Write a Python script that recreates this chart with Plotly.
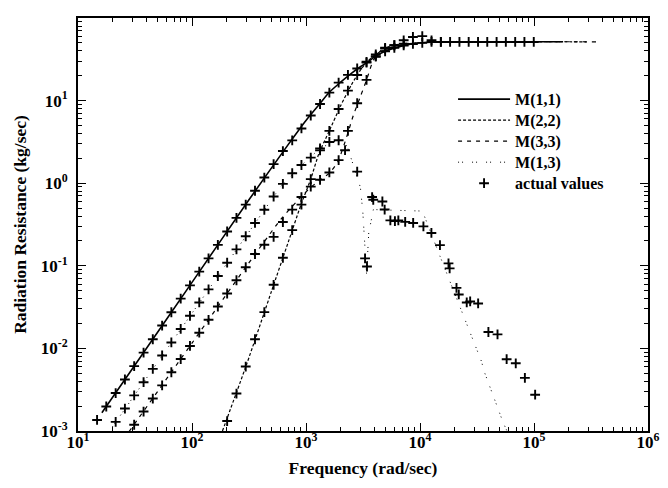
import plotly.graph_objects as go

# ---------------- data ----------------
# model curves (frequency in rad/sec, resistance in kg/sec)
m11_f = [16.2, 31.6, 100, 316, 700, 1000, 1300, 1600, 2000, 2500, 3000, 3500,
         4000, 5000, 6500, 8000, 10000, 15000, 50000, 180000]
m11_r = [0.00166, 0.0063, 0.063, 0.63, 2.95, 5.75, 8.9, 12.6, 16.6, 21.4, 25.7, 29.5,
         33.9, 39.8, 44.7, 47.9, 50.1, 51.3, 51.5, 51.5]

m22_f = [185, 300, 500, 700, 900, 1100, 1300, 1600, 2000, 2500, 3000, 3500,
         4000, 5000, 6500, 8000, 10000, 15000, 290000]
m22_r = [0.001, 0.0063, 0.05, 0.195, 0.54, 1.12, 2.3, 4.3, 8.5, 15.5, 23.4, 30.2,
         35.5, 41.7, 46.8, 49.0, 50.0, 51.3, 51.5]

m33_f = [28, 100, 300, 600, 900, 1100, 1300, 1600, 1900, 2200, 2600, 3000,
         3400, 3900, 4500, 5500, 7000, 10000, 15000, 370000]
m33_r = [0.00098, 0.0116, 0.0986, 0.363, 0.68, 0.89, 1.07, 1.32, 1.82, 3.16, 6.6, 11.2,
         17.8, 30.9, 39.8, 45.7, 49.0, 50.0, 51.3, 51.5]

m13_f = [20, 100, 300, 600, 900, 1300, 1700, 2000, 2300, 2700, 3000, 3150, 3300,
         3400, 3550, 3900, 6000, 10500, 15000, 25700, 34700, 36300, 42700, 50100,
         53700, 58000]
m13_r = [0.00112, 0.027, 0.234, 0.91, 1.62, 2.57, 3.16, 3.3, 2.8, 1.45, 0.89, 0.45,
         0.18, 0.079, 0.25, 0.48, 0.47, 0.46, 0.13, 0.02, 0.0069, 0.0054, 0.0029,
         0.0016, 0.00126, 0.001]

# measured ("actual") values
act11_f = [14.7, 17.7, 21.4, 25.8, 31.1, 37.6, 45.3, 54.7, 65.9, 79.6, 96.0, 115.8,
           139.7, 168.6, 203.4, 245.5, 296, 357, 431, 520, 627, 757, 912, 1101,
           1328, 1603, 1933, 2333, 2812, 3396, 4093, 4943, 5957, 7194, 8670, 10471,
           12619, 15241, 18365, 22182, 26730, 32285, 38905, 46989, 56624, 68391,
           82414, 99540]
act11_r = [0.00136, 0.00198, 0.00288, 0.0042, 0.0061, 0.0089, 0.0129, 0.0189, 0.0274,
           0.040, 0.058, 0.085, 0.123, 0.179, 0.26, 0.38, 0.55, 0.81, 1.17, 1.70,
           2.45, 3.3, 4.6, 6.6, 9.1, 12.5, 16.5, 20.5, 24.5, 29.5, 34.5, 39.5, 43.5,
           46.5, 48.5, 50.0, 51.3, 51.3, 51.3, 51.3, 51.3, 51.3, 51.3, 51.3, 51.3,
           51.3, 51.3, 51.3]

act22_f = [203.4, 245.5, 296, 357, 431, 520, 627, 757, 912, 1101, 1328, 1603, 1933,
           2333, 2812, 3396, 4093, 4943, 5957, 7194]
act22_r = [0.00132, 0.00284, 0.00603, 0.0129, 0.0275, 0.0589, 0.125, 0.27, 0.55,
           1.12, 2.5, 4.3, 7.9, 13.2, 20.4, 28.8, 36.3, 42.7, 46.8, 49.0]

act33_f = [31.1, 37.6, 45.3, 54.7, 65.9, 79.6, 96.0, 115.8, 139.7, 168.6, 203.4,
           245.5, 296, 357, 431, 520, 627, 757, 912, 1101, 1328, 1603, 1933, 2333,
           2812, 3396, 4093, 4943, 5957, 7194, 8670, 10471, 12619, 15241]
act33_r = [0.00119, 0.00172, 0.00247, 0.00357, 0.00514, 0.00743, 0.0107, 0.0155,
           0.0222, 0.0321, 0.0462, 0.0668, 0.096, 0.139, 0.18, 0.224, 0.339, 0.479,
           0.68, 0.91, 1.10, 1.35, 1.9, 4.3, 9.3, 17.8, 34.0, 43.6, 46.8, 53.7, 58.9,
           60.3, 53.7, 51.3]

act13_f = [21.4, 25.8, 31.1, 37.6, 45.3, 54.7, 65.9, 79.6, 96.0, 115.8, 139.7, 168.6,
           203.4, 245.5, 296, 357, 431, 520, 627, 757, 912, 1101, 1328, 1603, 1933,
           2200, 2812, 3296, 3428, 3802, 3890, 4677, 4898, 5495, 6026, 6457, 7413,
           8710, 10715, 12589, 14962, 17783, 18197, 20893, 21878, 25704, 27542,
           32359, 39811, 47863, 57544, 69183, 83176, 102329]
act13_r = [0.00129, 0.00187, 0.0027, 0.0039, 0.00565, 0.0082, 0.0118, 0.0172, 0.0248,
           0.036, 0.0519, 0.0753, 0.109, 0.158, 0.228, 0.330, 0.477, 0.69, 0.98, 1.32,
           1.66, 2.04, 2.63, 3.16, 3.31, 2.51, 1.38, 0.123, 0.098, 0.68, 0.63, 0.60,
           0.48, 0.355, 0.347, 0.355, 0.34, 0.33, 0.30, 0.25, 0.178, 0.107, 0.093,
           0.054, 0.045, 0.036, 0.037, 0.035, 0.0158, 0.0148, 0.0074, 0.0066, 0.0044,
           0.00275]

series_names = ["M(1,1)", "M(2,2)", "M(3,3)", "M(1,3)", "actual values"]

x_tick_vals = [1e1, 1e2, 1e3, 1e4, 1e5, 1e6]
x_tick_text = ["<b>10<sup>1</sup></b>", "<b>10<sup>2</sup></b>", "<b>10<sup>3</sup></b>",
               "<b>10<sup>4</sup></b>", "<b>10<sup>5</sup></b>", "<b>10<sup>6</sup></b>"]
y_tick_vals = [1e-3, 1e-2, 1e-1, 1e0, 1e1, 1e2]
y_tick_text = ["<b>10<sup>-3</sup></b>", "<b>10<sup>-2</sup></b>", "<b>10<sup>-1</sup></b>",
               "<b>10<sup>0</sup></b>", "<b>10<sup>1</sup></b>", "<b>10<sup>2</sup></b>"]

# ---------------- figure ----------------
FONT = "Liberation Serif"


def leg(name):
    return '<span style="font-size:16px"><b>%s</b></span>' % name


fig = go.Figure()

fig.add_trace(go.Scatter(x=m11_f, y=m11_r, mode="lines", name=leg(series_names[0]),
                         line=dict(color="black", width=1.6, shape="spline", smoothing=0.6)))
fig.add_trace(go.Scatter(x=m22_f, y=m22_r, mode="lines", name=leg(series_names[1]),
                         line=dict(color="black", width=1.2, dash="3px,2px",
                                   shape="spline", smoothing=0.6)))
fig.add_trace(go.Scatter(x=m33_f, y=m33_r, mode="lines", name=leg(series_names[2]),
                         line=dict(color="black", width=1.2, dash="4px,5px",
                                   shape="spline", smoothing=0.6)))
fig.add_trace(go.Scatter(x=m13_f, y=m13_r, mode="lines", name=leg(series_names[3]),
                         line=dict(color="black", width=1.0, dash="1px,3px,1px,9px")))

marker = dict(symbol="cross-thin", size=7, color="black",
              line=dict(color="black", width=1.9))
for i, (fx, ry) in enumerate([(act11_f, act11_r), (act22_f, act22_r),
                              (act33_f, act33_r), (act13_f, act13_r)]):
    fig.add_trace(go.Scatter(x=fx, y=ry, mode="markers", name=leg(series_names[4]),
                             marker=marker, legendgroup="act", showlegend=(i == 0)))

minor_x = [m * 10 ** e for e in range(1, 6) for m in range(2, 10)]
minor_y = [m * 10 ** e for e in range(-3, 2) for m in range(2, 10)]

axis_common = dict(showline=True, linecolor="black", linewidth=2, mirror="allticks",
                   ticks="inside", ticklen=8, tickwidth=1.2, tickcolor="black",
                   showgrid=False, zeroline=False,
                   tickfont=dict(family=FONT, size=17, color="black"))

fig.update_xaxes(type="log", range=[1, 6], tickmode="array", tickvals=x_tick_vals,
                 ticktext=x_tick_text, ticklabelstandoff=-5,
                 minor=dict(ticks="inside", ticklen=4, tickwidth=1.2, tickcolor="black",
                            tickmode="array", tickvals=minor_x, showgrid=False),
                 title=dict(text="<b>Frequency (rad/sec)</b>", standoff=10,
                            font=dict(family=FONT, size=17.5, color="black")),
                 **axis_common)
fig.update_yaxes(type="log", range=[-3, 2], tickmode="array", tickvals=y_tick_vals,
                 ticktext=y_tick_text, ticklabelstandoff=5,
                 minor=dict(ticks="inside", ticklen=4, tickwidth=1.2, tickcolor="black",
                            tickmode="array", tickvals=minor_y, showgrid=False),
                 title=dict(text="<b>Radiation Resistance (kg/sec)</b>", standoff=10,
                            font=dict(family=FONT, size=17.5, color="black")),
                 **axis_common)

# the page body adds an 8px offset, so the figure is 8px smaller than the window
fig.update_layout(
    width=660, height=480,
    margin=dict(l=70, r=20, t=10, b=57, autoexpand=False),
    paper_bgcolor="white", plot_bgcolor="white",
    font=dict(family=FONT, size=14, color="black"),
    legend=dict(x=0.658, y=0.841, xanchor="left", yanchor="top",
                bgcolor="rgba(0,0,0,0)", borderwidth=0, itemwidth=52,
                font=dict(family=FONT, size=13.85, color="black"),
                tracegroupgap=0),
)

fig.write_html("out.html")
